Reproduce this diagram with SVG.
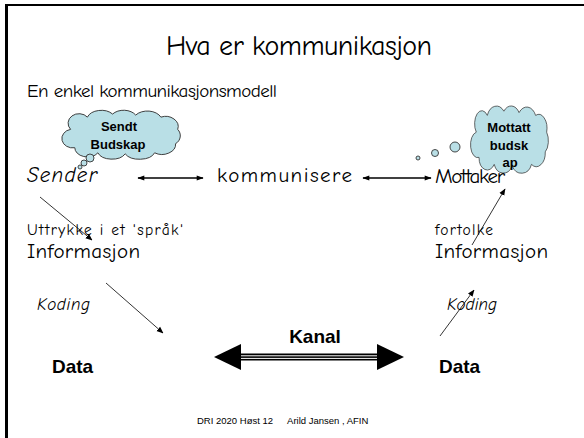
<svg xmlns="http://www.w3.org/2000/svg" width="584" height="438" viewBox="0 0 584 438">
<style>
.t{font-family:"Comic Neue","Liberation Sans",Arial,sans-serif;fill:#000}
.it{font-family:"Comic Neue","Liberation Sans",Arial,sans-serif;font-style:italic;fill:#000}
.b{font-family:"Liberation Sans",Arial,sans-serif;font-weight:bold;fill:#000}
.f{font-family:"Liberation Sans",Arial,sans-serif;fill:#000}
.cloud{fill:#b9dfe6;stroke:#333;stroke-width:0.9}
.bub{fill:#b9dfe6;stroke:#333;stroke-width:0.9}
.ln{stroke:#000;stroke-width:0.8;fill:none}
.dbl{stroke:#000;stroke-width:1.6;fill:none}
</style>
<defs>
<marker id="ah" viewBox="0 0 10 10" refX="9" refY="5" markerWidth="7" markerHeight="7" orient="auto" markerUnits="userSpaceOnUse">
<path d="M0,1 L10,5 L0,9 Z" fill="#000"/>
</marker>
<marker id="ah2" viewBox="0 0 10 10" refX="9" refY="5" markerWidth="8" markerHeight="7" orient="auto-start-reverse" markerUnits="userSpaceOnUse">
<path d="M0,1.5 L10,5 L0,8.5 Z" fill="#000"/>
</marker>
<path id="cl" d="M12,18 A10,9 0 0 1 28,6 A14,10 0 0 1 52,3 A13,9 0 0 1 74,4 A14,10 0 0 1 98,6 A12,10 0 0 1 114,18 A9,9 0 0 1 112,32 A13,10 0 0 1 92,41 A15,9 0 0 1 64,42 A14,9 0 0 1 38,41 A12,9 0 0 1 16,36 A9,8 0 0 1 12,18 Z"/>
</defs>
<rect width="584" height="438" fill="#fff"/>
<g id="frame">
<line x1="5" y1="5" x2="584" y2="5" stroke="#000" stroke-width="2.2"/>
<line x1="6.5" y1="4" x2="6.5" y2="438" stroke="#000" stroke-width="3"/>
</g>
<g id="title"><text class="t" x="166" y="55" font-size="28" textLength="266" lengthAdjust="spacing">Hva er kommunikasjon</text></g>
<g id="subtitle"><text class="t" x="27" y="97" font-size="19" textLength="250" lengthAdjust="spacing">En enkel kommunikasjonsmodell</text></g>

<g id="cloud-sendt">
<use href="#cl" class="cloud" transform="translate(58,111) scale(1.05,1.02)"/>
<circle class="bub" cx="90" cy="158" r="4"/>
<circle class="bub" cx="84" cy="163" r="3"/>
<circle class="bub" cx="80" cy="167" r="2"/>
<text class="b" x="119" y="131" font-size="13" text-anchor="middle">Sendt</text>
<text class="b" x="118" y="149" font-size="13" text-anchor="middle">Budskap</text>
</g>

<g id="cloud-mottatt">
<use href="#cl" class="cloud" transform="translate(468,107) scale(0.69,1.4)" vector-effect="non-scaling-stroke" style="stroke-width:0.7"/>
<circle class="bub" cx="455" cy="147" r="5"/>
<circle class="bub" cx="435" cy="153" r="3.5"/>
<circle class="bub" cx="418" cy="158" r="2"/>
<text class="b" x="509" y="132" font-size="13" text-anchor="middle">Mottatt</text>
<text class="b" x="509" y="150" font-size="13" text-anchor="middle">budsk</text>
<text class="b" x="510" y="167" font-size="13" text-anchor="middle">ap</text>
</g>

<g id="sender"><text class="it" x="27" y="182" font-size="21" textLength="70" lengthAdjust="spacing">Sender</text></g>
<g id="kommunisere"><text class="t" x="217" y="182" font-size="21" textLength="135" lengthAdjust="spacing">kommunisere</text></g>
<g id="mottaker"><text class="t" x="435" y="183" font-size="21" textLength="70" lengthAdjust="spacing">Mottaker</text></g>

<g id="info-left">
<text class="t" x="27" y="235" font-size="15.5" textLength="156" lengthAdjust="spacing">Uttrykke i et 'språk'</text>
<text class="t" x="27" y="258" font-size="21" textLength="113" lengthAdjust="spacing">Informasjon</text>
</g>
<g id="info-right">
<text class="t" x="435" y="235" font-size="15.5" textLength="58" lengthAdjust="spacing">fortolke</text>
<text class="t" x="435" y="258" font-size="21" textLength="113" lengthAdjust="spacing">Informasjon</text>
</g>

<g id="koding-left"><text class="it" x="37" y="310" font-size="17" textLength="53" lengthAdjust="spacing">Koding</text></g>
<g id="koding-right"><text class="it" x="447" y="310" font-size="17" textLength="50" lengthAdjust="spacing">Koding</text></g>

<g id="kanal"><text class="b" x="315" y="343" font-size="19" text-anchor="middle">Kanal</text></g>
<g id="data-left"><text class="b" x="52" y="373" font-size="19">Data</text></g>
<g id="data-right"><text class="b" x="439" y="373" font-size="19">Data</text></g>

<g id="connectors">
<line class="dbl" x1="138" y1="178" x2="203" y2="178" marker-start="url(#ah2)" marker-end="url(#ah2)"/>
<line class="dbl" x1="363" y1="178" x2="431" y2="178" marker-start="url(#ah2)" marker-end="url(#ah2)"/>
<line class="ln" x1="40" y1="197" x2="92" y2="240" marker-end="url(#ah)"/>
<line class="ln" x1="472" y1="245" x2="505" y2="189" marker-end="url(#ah)"/>
<line class="ln" x1="106" y1="283" x2="163" y2="333" marker-end="url(#ah)"/>
<line class="ln" x1="440" y1="336" x2="474" y2="290" marker-end="url(#ah)"/>
<g id="kanal-arrow">
<rect x="238" y="353.5" width="142" height="7" fill="#000"/>
<line x1="238" y1="355.8" x2="380" y2="355.8" stroke="#fff" stroke-width="1"/>
<line x1="238" y1="358.4" x2="380" y2="358.4" stroke="#fff" stroke-width="1"/>
<polygon points="214,357 241,344 241,370" fill="#000"/>
<polygon points="404,357 377,344 377,370" fill="#000"/>
</g>
</g>

<g id="footer"><text class="f" x="197" y="424" font-size="9.5">DRI 2020 Høst 12<tspan dx="14">Arild Jansen , AFIN</tspan></text></g>
</svg>
